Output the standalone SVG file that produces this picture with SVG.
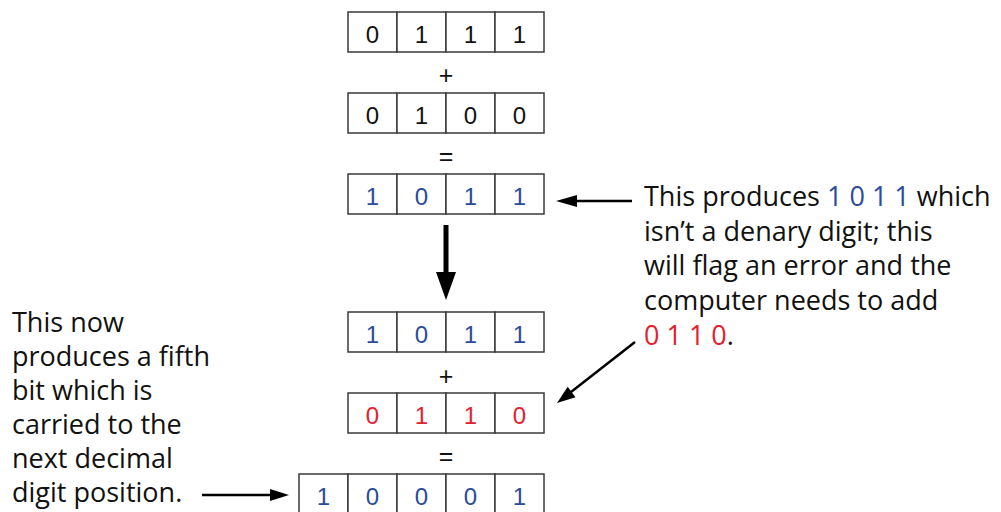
<svg xmlns="http://www.w3.org/2000/svg" width="1001" height="512" viewBox="0 0 1001 512">
<style>
.cell{fill:#fff;stroke:#3a3a3a;stroke-width:1.5}
.d{font-family:"Liberation Sans",Arial,sans-serif;font-size:24px;text-anchor:middle}
.k{fill:#111}
.b{fill:#2b4b9b}
.r{fill:#e3202c}
.op{font-family:"Liberation Sans",Arial,sans-serif;font-size:25px;text-anchor:middle;fill:#111}
.t{font-family:"Open Sans",sans-serif;font-size:27px;fill:#111}
.ln{stroke:#000;stroke-width:2.5;fill:none}
</style>
<rect width="1001" height="512" fill="#fff"/>
<g id="row1">
<rect class="cell" x="348" y="12" width="49" height="40"/><rect class="cell" x="397" y="12" width="49" height="40"/><rect class="cell" x="446" y="12" width="49" height="40"/><rect class="cell" x="495" y="12" width="49" height="40"/>
<text class="d k" x="372.5" y="43">0</text><text class="d k" x="421.5" y="43">1</text><text class="d k" x="470.5" y="43">1</text><text class="d k" x="519.5" y="43">1</text>
</g>
<text class="op" x="446" y="84">+</text>
<g id="row2">
<rect class="cell" x="348" y="93" width="49" height="40"/><rect class="cell" x="397" y="93" width="49" height="40"/><rect class="cell" x="446" y="93" width="49" height="40"/><rect class="cell" x="495" y="93" width="49" height="40"/>
<text class="d k" x="372.5" y="124">0</text><text class="d k" x="421.5" y="124">1</text><text class="d k" x="470.5" y="124">0</text><text class="d k" x="519.5" y="124">0</text>
</g>
<text class="op" x="446" y="165">=</text>
<g id="row3">
<rect class="cell" x="348" y="174" width="49" height="40"/><rect class="cell" x="397" y="174" width="49" height="40"/><rect class="cell" x="446" y="174" width="49" height="40"/><rect class="cell" x="495" y="174" width="49" height="40"/>
<text class="d b" x="372.5" y="205">1</text><text class="d b" x="421.5" y="205">0</text><text class="d b" x="470.5" y="205">1</text><text class="d b" x="519.5" y="205">1</text>
</g>
<g id="row4">
<rect class="cell" x="348" y="312" width="49" height="40"/><rect class="cell" x="397" y="312" width="49" height="40"/><rect class="cell" x="446" y="312" width="49" height="40"/><rect class="cell" x="495" y="312" width="49" height="40"/>
<text class="d b" x="372.5" y="343">1</text><text class="d b" x="421.5" y="343">0</text><text class="d b" x="470.5" y="343">1</text><text class="d b" x="519.5" y="343">1</text>
</g>
<text class="op" x="446" y="385">+</text>
<g id="row5">
<rect class="cell" x="348" y="393" width="49" height="40"/><rect class="cell" x="397" y="393" width="49" height="40"/><rect class="cell" x="446" y="393" width="49" height="40"/><rect class="cell" x="495" y="393" width="49" height="40"/>
<text class="d r" x="372.5" y="424">0</text><text class="d r" x="421.5" y="424">1</text><text class="d r" x="470.5" y="424">1</text><text class="d r" x="519.5" y="424">0</text>
</g>
<text class="op" x="446" y="465">=</text>
<g id="row6">
<rect class="cell" x="299" y="474" width="49" height="40"/><rect class="cell" x="348" y="474" width="49" height="40"/><rect class="cell" x="397" y="474" width="49" height="40"/><rect class="cell" x="446" y="474" width="49" height="40"/><rect class="cell" x="495" y="474" width="49" height="40"/>
<text class="d b" x="323.5" y="505">1</text><text class="d b" x="372.5" y="505">0</text><text class="d b" x="421.5" y="505">0</text><text class="d b" x="470.5" y="505">0</text><text class="d b" x="519.5" y="505">1</text>
</g>
<g id="note-right">
<text class="t" x="644" y="206">This produces <tspan class="b">1 0 1 1</tspan> which</text>
<text class="t" x="644" y="240.5">isn’t a denary digit; this</text>
<text class="t" x="644" y="275">will flag an error and the</text>
<text class="t" x="644" y="310">computer needs to add</text>
<text class="t" x="644" y="345"><tspan class="r">0 1 1 0</tspan>.</text>
</g>
<g id="note-left">
<text class="t" x="12" y="332">This now</text>
<text class="t" x="12" y="366">produces a fifth</text>
<text class="t" x="12" y="400">bit which is</text>
<text class="t" x="12" y="434">carried to the</text>
<text class="t" x="12" y="468">next decimal</text>
<text class="t" x="12" y="502">digit position.</text>
</g>
<g id="connectors">
<line class="ln" x1="632" y1="201" x2="574" y2="201"/>
<polygon points="556,201 577,195 577,207" fill="#000"/>
<line class="ln" x1="635" y1="342" x2="571" y2="392"/>
<polygon points="557,403 575.5,397.2 567.7,386.8" fill="#000"/>
<line class="ln" x1="202" y1="495" x2="272" y2="495"/>
<polygon points="289,495 270,489 270,501" fill="#000"/>
<rect x="443.5" y="225" width="5" height="48" fill="#000"/>
<polygon points="436,272 456,272 446,300" fill="#000"/>
</g>
</svg>
